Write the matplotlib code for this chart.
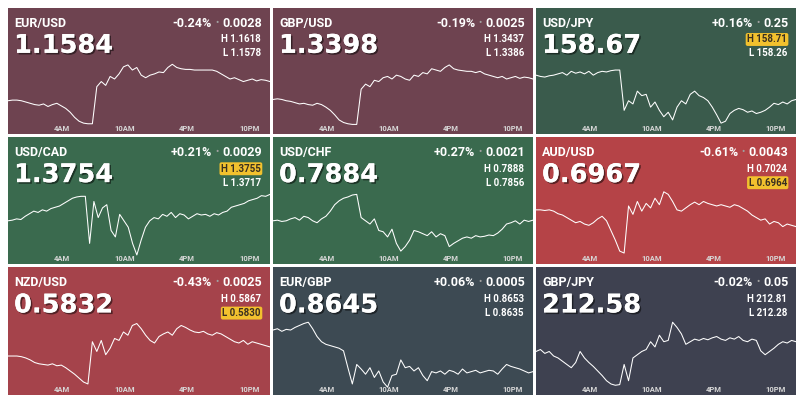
import numpy as np
import matplotlib
matplotlib.use("Agg")
import matplotlib.pyplot as plt
import matplotlib.patheffects as pe

pairs = ["EUR/USD","GBP/USD","USD/JPY","USD/CAD","USD/CHF","AUD/USD","NZD/USD","EUR/GBP","GBP/JPY"]
prices = ["1.1584","1.3398","158.67","1.3754","0.7884","0.6967","0.5832","0.8645","212.58"]
changes = ["-0.24% • 0.0028","-0.19% • 0.0025","+0.16% • 0.25","+0.21% • 0.0029","+0.27% • 0.0021",
           "-0.61% • 0.0043","-0.43% • 0.0025","+0.06% • 0.0005","-0.02% • 0.05"]
highs = ["1.1618","1.3437","158.71","1.3755","0.7888","0.7024","0.5867","0.8653","212.81"]
lows = ["1.1578","1.3386","158.26","1.3717","0.7856","0.6964","0.5830","0.8635","212.28"]
high_flag = [False,False,True,True,False,False,False,False,False]
low_flag = [False,False,False,False,False,True,True,False,False]
colors = ["#6e4350","#6e4350","#3a5b4c","#3a6a4e","#3a6a4e","#b54347","#a5434b","#3d4a53","#3e4150"]
tick_hours = [4,10,16,22]
tick_labels = ["4AM","10AM","4PM","10PM"]

# intraday levels (0 = day low region, 100 = day high region)
series = [
 [40,41,41,40,38,36,34,33,35,31,34,36,32,28,22,14,8,5,4,4,62,70,64,78,74,82,93,96,88,92,80,76,80,82,85,84,92,97,92,90,89,89,88,88,88,88,88,86,82,78,74,76,73,70,72,74,71,73,72,70],
 [42,43,42,40,39,37,35,36,34,33,36,34,30,25,18,10,6,4,3,3,58,66,62,72,70,76,78,74,80,78,74,72,80,78,84,82,90,88,86,92,96,90,88,87,86,86,84,86,82,80,78,76,78,74,76,78,75,77,76,74],
 [80,78,77,79,80,82,84,80,86,83,85,82,86,80,84,86,85,87,88,88,25,40,35,55,48,50,30,38,25,15,22,10,30,40,35,50,55,48,45,40,30,18,5,8,20,25,28,26,22,24,20,22,25,30,36,34,38,35,40,42],
 [55,56,58,57,62,66,70,68,72,70,74,76,78,82,86,90,92,93,93,20,85,60,75,80,40,30,65,55,45,20,2,25,45,55,60,58,65,62,68,60,66,64,58,62,66,64,65,62,66,64,68,70,76,78,80,82,86,88,90,94,93,96],
 [55,56,54,55,58,60,56,62,60,55,52,58,62,70,80,86,90,92,95,96,60,55,50,58,40,38,30,42,20,8,15,25,40,38,35,32,38,30,35,32,15,20,24,28,30,28,32,30,31,33,32,36,42,50,52,55,50,56,54,56],
 [72,72,71,72,70,66,64,60,56,52,54,50,48,52,58,62,55,40,25,8,5,78,65,85,70,82,75,90,80,100,96,85,72,70,75,80,84,80,85,82,80,78,80,78,76,80,78,74,70,64,60,56,58,50,54,52,46,50,48,46],
 [48,48,48,47,45,42,38,36,35,34,36,33,34,30,25,20,14,8,5,70,55,72,50,60,75,72,85,80,95,98,90,80,72,68,78,82,85,80,90,95,92,88,85,84,86,82,80,84,82,78,74,70,68,72,66,70,68,66,64,62],
 [88,90,86,89,88,92,95,98,100,90,78,70,66,64,62,60,56,30,5,35,28,20,30,15,25,8,0,18,20,42,30,32,25,30,18,10,24,22,25,20,26,24,20,28,22,24,26,22,24,26,25,20,28,35,32,30,28,25,22,24],
 [55,58,52,55,48,45,40,35,30,38,55,45,38,32,25,18,10,5,3,4,35,10,45,50,55,58,70,62,80,70,72,100,92,82,66,70,74,72,75,73,76,78,74,72,76,74,78,72,70,74,72,56,50,55,60,66,70,68,72,70],
]

W, H = 800, 403
fig = plt.figure(figsize=(W/100, H/100), dpi=100)
fig.patch.set_facecolor("white")
lefts = [8, 273, 536]; widths = [262, 260, 260]
tops = [8, 137, 267]; heights = [126, 127, 128]
font = "Roboto"

for i in range(9):
    r, c = divmod(i, 3)
    ax = fig.add_axes([lefts[c]/W, 1-(tops[r]+heights[r])/H, widths[c]/W, heights[r]/H])
    ax.set_facecolor(colors[i])
    for s in ax.spines.values(): s.set_visible(False)
    ax.set_xticks([]); ax.set_yticks([])
    v = np.array(series[i], float)
    t = np.linspace(-1.2, 24, len(v))
    ax.plot(t, v, color="white", lw=0.75)
    ax.set_xlim(-1.2, 24)
    ax.set_ylim(-12, 185)
    for h, lab in zip(tick_hours, tick_labels):
        ax.text(h, 0.04, lab, transform=ax.get_xaxis_transform(), ha="center", va="center",
                fontsize=5.5, fontweight="bold", color="#d8d8d8", family=font)
    ax.text(0.023, 0.88, pairs[i], transform=ax.transAxes, fontsize=9, fontweight="bold",
            color="white", family=font, va="center")
    ax.text(0.023, 0.70, prices[i], transform=ax.transAxes, fontsize=18.5, fontweight="bold",
            color="white", family="DejaVu Sans", va="center",
            path_effects=[pe.withSimplePatchShadow(offset=(1.2,-1.2), shadow_rgbFace="black", alpha=0.5), pe.Normal()])
    pct, chg = changes[i].split(" • ")
    t2 = ax.text(0.97, 0.88, chg, transform=ax.transAxes, fontsize=9, fontweight="bold",
                 color="white", family=font, va="center", ha="right")
    ax.annotate(pct, xy=(0, 0.5), xycoords=t2, xytext=(-7.5, 0), textcoords="offset points",
                ha="right", va="center", fontsize=9, fontweight="bold", color="white", family=font)
    ax.annotate("•", xy=(0, 0.5), xycoords=t2, xytext=(-3.8, 0), textcoords="offset points",
                ha="center", va="center", fontsize=7, color="#a0a0a0", family=font)
    for y, txt, flag in [(0.75, "H " + highs[i], high_flag[i]), (0.64, "L " + lows[i], low_flag[i])]:
        kw = {}
        if flag:
            kw["bbox"] = dict(boxstyle="round,pad=0.15,rounding_size=0.2", fc="#f2c12e", ec="none")
        ax.text(0.965, y, txt, transform=ax.transAxes, fontsize=7, fontweight="bold",
                color="#3a3020" if flag else "white", family=font, va="center", ha="right", **kw)

fig.savefig("out.png", dpi=100, facecolor="white")
